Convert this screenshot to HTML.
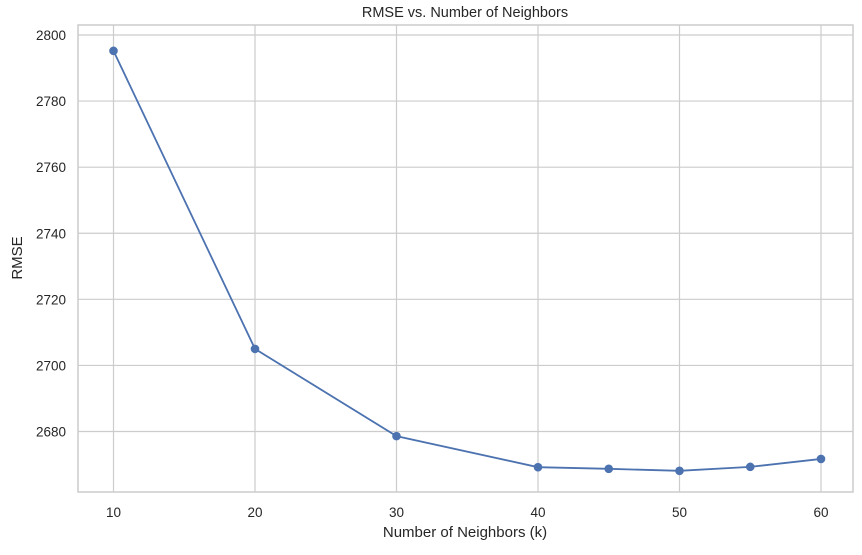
<!DOCTYPE html>
<html><head><meta charset="utf-8"><style>
body{margin:0;background:#fff;font-family:"Liberation Sans",sans-serif;}
svg text{font-family:"Liberation Sans",sans-serif;fill:#262626;}
</style></head><body>
<svg width="862" height="550">
<rect x="78" y="25" width="775" height="467" fill="#fff" stroke="#ccc" stroke-width="1.5"/>
<g id="grid"></g>
<polyline id="line" fill="none" stroke="#4c72b0" stroke-width="1.8"/>
<g id="pts"></g>
<text x="465" y="17" font-size="14.5" text-anchor="middle">RMSE vs. Number of Neighbors</text>
<text x="465" y="537" font-size="15" text-anchor="middle">Number of Neighbors (k)</text>
<text x="22" y="258" font-size="15" text-anchor="middle" transform="rotate(-90 22 258)">RMSE</text>
</svg>
<script>
const kValues=[10,20,30,40,45,50,55,60];
const rmseValues=[2795.2,2705.0,2678.6,2669.2,2668.7,2668.1,2669.3,2671.7];
const xTicks=[10,20,30,40,50,60];
const yTicks=[2680,2700,2720,2740,2760,2780,2800];
const ns="http://www.w3.org/2000/svg";
function sx(v){return 113.5+(v-10)*(821-113.5)/50;}
function sy(v){return 431.5-(v-2680)*(431.5-35)/120;}
const g=document.getElementById('grid');
function mk(t,a,p){const e=document.createElementNS(ns,t);for(const k in a)e.setAttribute(k,a[k]);p.appendChild(e);return e;}
xTicks.forEach(t=>{
 const l=mk('line',{x1:sx(t),x2:sx(t),y1:25,y2:492,stroke:'#ccc','stroke-width':1.2},g);
 
 
 const tx=mk('text',{x:sx(t),y:517,'font-size':13.5,'text-anchor':'middle'},g);
 tx.textContent=t;
 
 
});
yTicks.forEach(t=>{
 const l=mk('line',{x1:78,x2:853,y1:sy(t),y2:sy(t),stroke:'#ccc','stroke-width':1.2},g);
 
 
 const tx=mk('text',{x:66,y:sy(t)+5,'font-size':13.5,'text-anchor':'end'},g);
 tx.textContent=t;
 
 
});
document.getElementById('line').setAttribute('points',kValues.map((k,i)=>sx(k)+','+sy(rmseValues[i])).join(' '));
const pg=document.getElementById('pts');
kValues.forEach((k,i)=>{
 const c=mk('circle',{cx:sx(k),cy:sy(rmseValues[i]),r:4.3,fill:'#4c72b0'},pg);
 
 
});
</script>
</body></html>
